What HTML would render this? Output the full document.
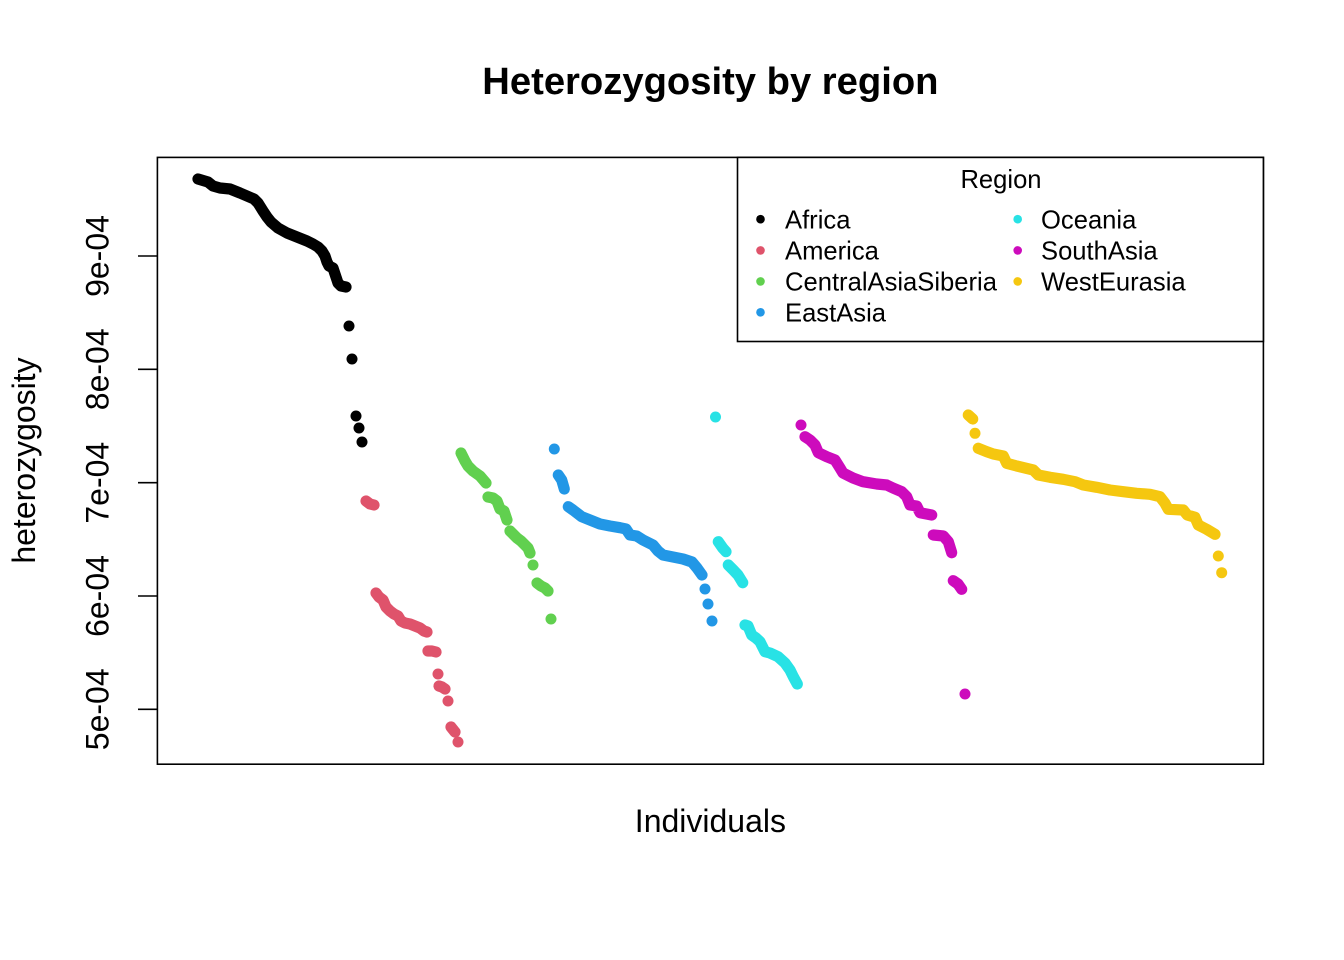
<!DOCTYPE html>
<html>
<head>
<meta charset="utf-8">
<style>
  html, body { margin: 0; padding: 0; background: #ffffff; }
  svg { display: block; }
  text { font-family: "Liberation Sans", Arial, sans-serif; fill: #000; }
  .pl { fill: none; stroke-width: 11.2; stroke-linecap: round; stroke-linejoin: round; }
</style>
</head>
<body>
<svg width="1344" height="960" viewBox="0 0 1344 960" xmlns="http://www.w3.org/2000/svg">
  <rect x="0" y="0" width="1344" height="960" fill="#ffffff"/>

  <!-- Title -->
  <text x="710.4" y="94" font-size="38.2" font-weight="bold" text-anchor="middle">Heterozygosity by region</text>

  <!-- Axis labels -->
  <text x="710.4" y="832" font-size="32" text-anchor="middle">Individuals</text>
  <text transform="translate(35,460.5) rotate(-90)" font-size="32" text-anchor="middle">heterozygosity</text>

  <!-- Y ticks -->
  <g stroke="#000" stroke-width="1.6">
    <line x1="138" y1="256" x2="157.4" y2="256"/>
    <line x1="138" y1="369.3" x2="157.4" y2="369.3"/>
    <line x1="138" y1="482.7" x2="157.4" y2="482.7"/>
    <line x1="138" y1="596" x2="157.4" y2="596"/>
    <line x1="138" y1="709.3" x2="157.4" y2="709.3"/>
  </g>
  <g font-size="32" text-anchor="middle">
    <text transform="translate(108.5,256) rotate(-90)">9e-04</text>
    <text transform="translate(108.5,369.3) rotate(-90)">8e-04</text>
    <text transform="translate(108.5,482.7) rotate(-90)">7e-04</text>
    <text transform="translate(108.5,596) rotate(-90)">6e-04</text>
    <text transform="translate(108.5,709.3) rotate(-90)">5e-04</text>
  </g>

  <!-- Africa -->
  <g>
    <polyline class="pl" stroke="#000000" points="198,179 203,180.5 208,182 213,186 220,188 230,189 240,193 247,196 254,199 258,203 263,211 267,217 271,222 278,228 287,233 297,237 307,241 313,244 318,247 322,251 325,256 327,262 329,266 333,268 335,274 338,283 341,286 346,287"/>
    <circle cx="349" cy="326" r="5.5" fill="#000000"/>
    <circle cx="352" cy="359" r="5.5" fill="#000000"/>
    <circle cx="356" cy="416" r="5.5" fill="#000000"/>
    <circle cx="359" cy="428" r="5.5" fill="#000000"/>
    <circle cx="362" cy="442" r="5.5" fill="#000000"/>
  </g>

  <!-- America -->
  <g>
    <polyline class="pl" stroke="#DF536B" points="366,501 370,504 374,505"/>
    <polyline class="pl" stroke="#DF536B" points="376,593 379,597 383,600 386,607 390,611 394,614 398,616 401,621 405,623 410,624 415,626 420,628 424,631 427,632"/>
    <polyline class="pl" stroke="#DF536B" points="428,651 432,651 436,652"/>
    <circle cx="438" cy="674" r="5.5" fill="#DF536B"/>
    <polyline class="pl" stroke="#DF536B" points="439,686 442,687 445,689"/>
    <circle cx="448" cy="701" r="5.5" fill="#DF536B"/>
    <polyline class="pl" stroke="#DF536B" points="451,727 455,732"/>
    <circle cx="458" cy="742" r="5.5" fill="#DF536B"/>
  </g>

  <!-- CentralAsiaSiberia -->
  <g>
    <polyline class="pl" stroke="#61D04F" points="461,453 465,461 468,466 473,471 480,476 486,483"/>
    <polyline class="pl" stroke="#61D04F" points="488,497 493,498 497,501 500,509 504,511 507,520"/>
    <polyline class="pl" stroke="#61D04F" points="510,531 514,535 517,538 521,541 525,545 528,548 530,553"/>
    <circle cx="533" cy="565" r="5.5" fill="#61D04F"/>
    <polyline class="pl" stroke="#61D04F" points="537,583 541,586 545,588 548,591"/>
    <circle cx="551" cy="619" r="5.5" fill="#61D04F"/>
  </g>

  <!-- EastAsia -->
  <g>
    <circle cx="554.3" cy="449" r="5.5" fill="#2297E6"/>
    <polyline class="pl" stroke="#2297E6" points="558.3,475 561.7,480 564.3,489"/>
    <polyline class="pl" stroke="#2297E6" points="568.3,506.7 573,510 581.7,516.7 590,520 600,524 610,526 620,527.7 626,529 630,535 636.7,536 643,540 653,545 658,551 663,555 673,557 683,559 692,562 697,568 702,575"/>
    <circle cx="705" cy="589" r="5.5" fill="#2297E6"/>
    <circle cx="708" cy="604" r="5.5" fill="#2297E6"/>
    <circle cx="712" cy="621" r="5.5" fill="#2297E6"/>
  </g>

  <!-- Oceania -->
  <g>
    <circle cx="715.5" cy="417" r="5.5" fill="#28E2E5"/>
    <polyline class="pl" stroke="#28E2E5" points="718.3,541.7 722.7,548 726,551.7"/>
    <polyline class="pl" stroke="#28E2E5" points="728.3,565 733.3,570 738,575 742.7,582.7"/>
    <polyline class="pl" stroke="#28E2E5" points="745,625 748,626 751.7,635 756,638 760,641.7 765,651.7 770,653 778,656.7 785,663 790,670 793.3,676.7 797.3,684"/>
  </g>

  <!-- SouthAsia -->
  <g>
    <circle cx="801" cy="425" r="5.5" fill="#CD0BBC"/>
    <polyline class="pl" stroke="#CD0BBC" points="805,436.7 810,440 815,445 818.3,452.7 826.7,456.7 835,460 840,468 843,473 853,478 863,481.7 876.7,484 886.7,485 893,488 901.7,491.7 906.7,496.7 910,505 916.7,506 920,512.7 931.7,515"/>
    <polyline class="pl" stroke="#CD0BBC" points="933.3,535 943.3,536 948.3,541.7 951.7,552.7"/>
    <polyline class="pl" stroke="#CD0BBC" points="953.3,580.7 958,584 961.7,589.3"/>
    <circle cx="965" cy="694" r="5.5" fill="#CD0BBC"/>
  </g>

  <!-- WestEurasia -->
  <g>
    <polyline class="pl" stroke="#F5C710" points="968.3,415 972.7,419"/>
    <circle cx="975" cy="433.3" r="5.5" fill="#F5C710"/>
    <polyline class="pl" stroke="#F5C710" points="978.3,448.3 986.7,451.7 993.3,454 1003.3,456 1006.7,463.3 1016.7,466 1033.3,470 1038.3,475 1050,477.3 1063.3,479.3 1075,481.7 1083.3,485 1096.7,487.3 1110,490 1123.3,491.7 1136.7,493.3 1150,494.3 1160,496.7 1165,503.3 1168.3,509.3 1183.3,510 1187.3,515 1195,517.3 1198.3,525 1206.7,529.3 1215,534.3"/>
    <circle cx="1218.3" cy="556" r="5.5" fill="#F5C710"/>
    <circle cx="1221.7" cy="572.7" r="5.5" fill="#F5C710"/>
  </g>

  <!-- Plot box -->
  <rect x="157.4" y="157.4" width="1106" height="606.8" fill="none" stroke="#000" stroke-width="1.6"/>

  <!-- Legend -->
  <rect x="737.5" y="157.4" width="525.9" height="184.1" fill="#ffffff" stroke="#000" stroke-width="1.6"/>
  <text x="1001" y="188" font-size="25.6" text-anchor="middle">Region</text>
  <g font-size="25.6">
    <circle cx="760.5" cy="219.2" r="4.3" fill="#000000"/>
    <text x="785" y="228.3">Africa</text>
    <circle cx="760.5" cy="250.4" r="4.3" fill="#DF536B"/>
    <text x="785" y="259.5">America</text>
    <circle cx="760.5" cy="281.4" r="4.3" fill="#61D04F"/>
    <text x="785" y="290.5">CentralAsiaSiberia</text>
    <circle cx="760.5" cy="312.3" r="4.3" fill="#2297E6"/>
    <text x="785" y="321.4">EastAsia</text>

    <circle cx="1017.7" cy="219.2" r="4.3" fill="#28E2E5"/>
    <text x="1041" y="228.3">Oceania</text>
    <circle cx="1017.7" cy="250.4" r="4.3" fill="#CD0BBC"/>
    <text x="1041" y="259.5">SouthAsia</text>
    <circle cx="1017.7" cy="281.4" r="4.3" fill="#F5C710"/>
    <text x="1041" y="290.5">WestEurasia</text>
  </g>
</svg>
</body>
</html>
